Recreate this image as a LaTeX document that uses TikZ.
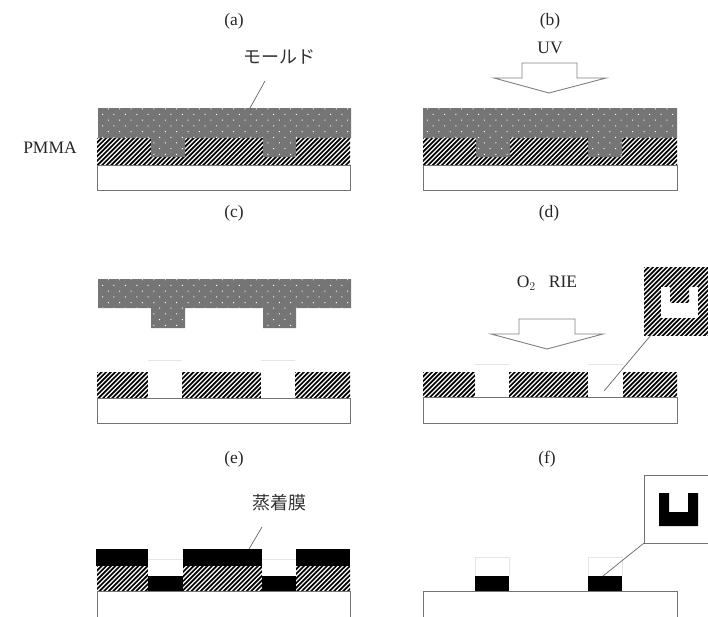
\documentclass[tikz,border=0pt]{standalone}
\usepackage{fontspec}
\setmainfont{Liberation Serif}
\newfontfamily\cjk{Noto Sans CJK JP}
\usetikzlibrary{patterns.meta}

\tikzset{
 mold/.style={fill=black!54,postaction={pattern={Dots[distance=8.06pt,angle=45,radius=.7pt]},pattern color=white}},
 hatchline/.style={draw=black,line width=1.7pt},
 sub/.style={draw=black!55,line width=.8pt},
 film/.style={fill=black},
 ghost/.style={draw=black!10,line width=.5pt},
 uvarr/.style={draw=black!50,line width=.9pt,fill=white},
 lead/.style={draw=black!60,line width=.7pt},
 lab/.style={font=\fontsize{17.5}{19}\selectfont,text=black!85,inner sep=0pt},
 jlab/.style={font=\fontsize{18}{20}\selectfont\cjk,text=black!80,inner sep=0pt}
}
% hatched layer: corners (x1,y1) and (x2,y2)
\newcommand{\pmmabox}[4]{
 \begin{scope}
 \clip (#1,#2) rectangle (#3,#4);
 \pgfmathsetmacro\hnext{#1+4.6}
 \pgfmathsetmacro\hlast{#3+#4-#2+6}
 \foreach \hx in {#1,\hnext,...,\hlast}
 \draw[hatchline] (\hx-#4+#2-6,#4+6) -- (\hx+6,#2-6);
 \end{scope}
}

\begin{document}
\begin{tikzpicture}[x=1pt,y=-1pt]
\useasboundingbox (0,0) rectangle (708,616);
% (a)
\node[lab] (tagA) at (234,21) {(a)};
\node[jlab] (moldlabel) at (279,57) {モールド};
\node[lab] (pmmalabel) at (50,148) {PMMA};
\pmmabox{97}{138}{350}{165}
\draw[sub] (97,165) rectangle (350,190);
\fill[mold] (98,108) -- (351,108) -- (351,138) -- (296,138) -- (296,157) -- (263,157) -- (263,138)
 -- (185,138) -- (185,157) -- (151,157) -- (151,138) -- (98,138) -- cycle;
\coordinate (moldA) at (250,108); \coordinate (moldB) at (265,81);
\draw[lead] (moldA) -- (moldB);
% (b)
\node[lab] (tagB) at (550,21) {(b)};
\node[lab] (uvlabel) at (550,48) {UV};
\draw[uvarr] (522,63) -- (577,63) -- (577,78) -- (606,78) -- (549,93) -- (494,78) -- (522,78) -- cycle;
\pmmabox{423}{138}{677}{165}
\draw[sub] (423,165) rectangle (677,190);
\fill[mold] (423,108) -- (677,108) -- (677,138) -- (622,138) -- (622,157) -- (588,157) -- (588,138)
 -- (510,138) -- (510,157) -- (476,157) -- (476,138) -- (423,138) -- cycle;
% (c)
\node[lab] (tagC) at (234,213) {(c)};
\node[lab] (tagD) at (549,213) {(d)};
\fill[mold] (98,279) -- (351,279) -- (351,308) -- (296,308) -- (296,328) -- (263,328) -- (263,308)
 -- (185,308) -- (185,328) -- (151,328) -- (151,308) -- (98,308) -- cycle;
\pmmabox{97}{372}{350}{398}
\foreach \xa/\xb in {148/182,261/295} {
 \fill[white] (\xa,372) rectangle (\xb,398);
 \draw[ghost] (\xa,360) -- (\xb,360);
}
\draw[sub] (97,398) rectangle (350,423);
% (d)
\node[lab] (rielabel) at (547,283) {O$_2$\ \ \ RIE};
\draw[uvarr] (519,319) -- (575,319) -- (575,334) -- (603,334) -- (547,349) -- (491,334) -- (519,334) -- cycle;
\pmmabox{423}{372}{677}{397}
\foreach \xa/\xb in {475/509,588/623} {
 \fill[white] (\xa,372) rectangle (\xb,397);
 \draw[ghost] (\xa,364) -- (\xb,364);
}
\draw[sub] (423,397) rectangle (677,423);
\pmmabox{644}{267}{708}{335}
\fill[white] (661,287) rectangle (698,318);
\pmmabox{670}{287}{689}{302}
\coordinate (holeD) at (604,391); \coordinate (insetD) at (651,335);
\draw[lead] (holeD) -- (insetD);
% (e)
\node[lab] (tagE) at (234,459) {(e)};
\node[lab] (tagF) at (547,459) {(f)};
\node[jlab] (filmlabel) at (279,503) {蒸着膜};
\pmmabox{97}{566}{350}{591}
\foreach \xa/\xb in {148/183,262/296} {
 \fill[white] (\xa,566) rectangle (\xb,591);
 \draw[ghost] (\xa,559) -- (\xb,559);
 \fill[film] (\xa,576) rectangle (\xb,591);
}
\draw[sub] (97,591) rectangle (350,630);
\foreach \xa/\xb in {96/148,183/262,296/350} \fill[film] (\xa,549) rectangle (\xb,566);
\coordinate (filmA) at (249,549); \coordinate (filmB) at (262,527);
\draw[lead] (filmA) -- (filmB);
% (f)
\draw[sub] (423,591) rectangle (677,630);
\foreach \xa/\xb in {475/509,588/622} {
 \draw[ghost] (\xa,576) -- (\xa,557) -- (\xb,557) -- (\xb,576);
 \fill[film] (\xa,576) rectangle (\xb,591);
}
\draw[sub] (720,475) -- (644,475) -- (644,543) -- (720,543);
\fill[film] (659,493) -- (669,493) -- (669,512) -- (688,512) -- (688,493) -- (698,493) -- (698,526) -- (659,526) -- cycle;
\coordinate (filmF) at (603,576); \coordinate (insetF) at (644,543);
\draw[lead] (filmF) -- (insetF);
\end{tikzpicture}
\end{document}
